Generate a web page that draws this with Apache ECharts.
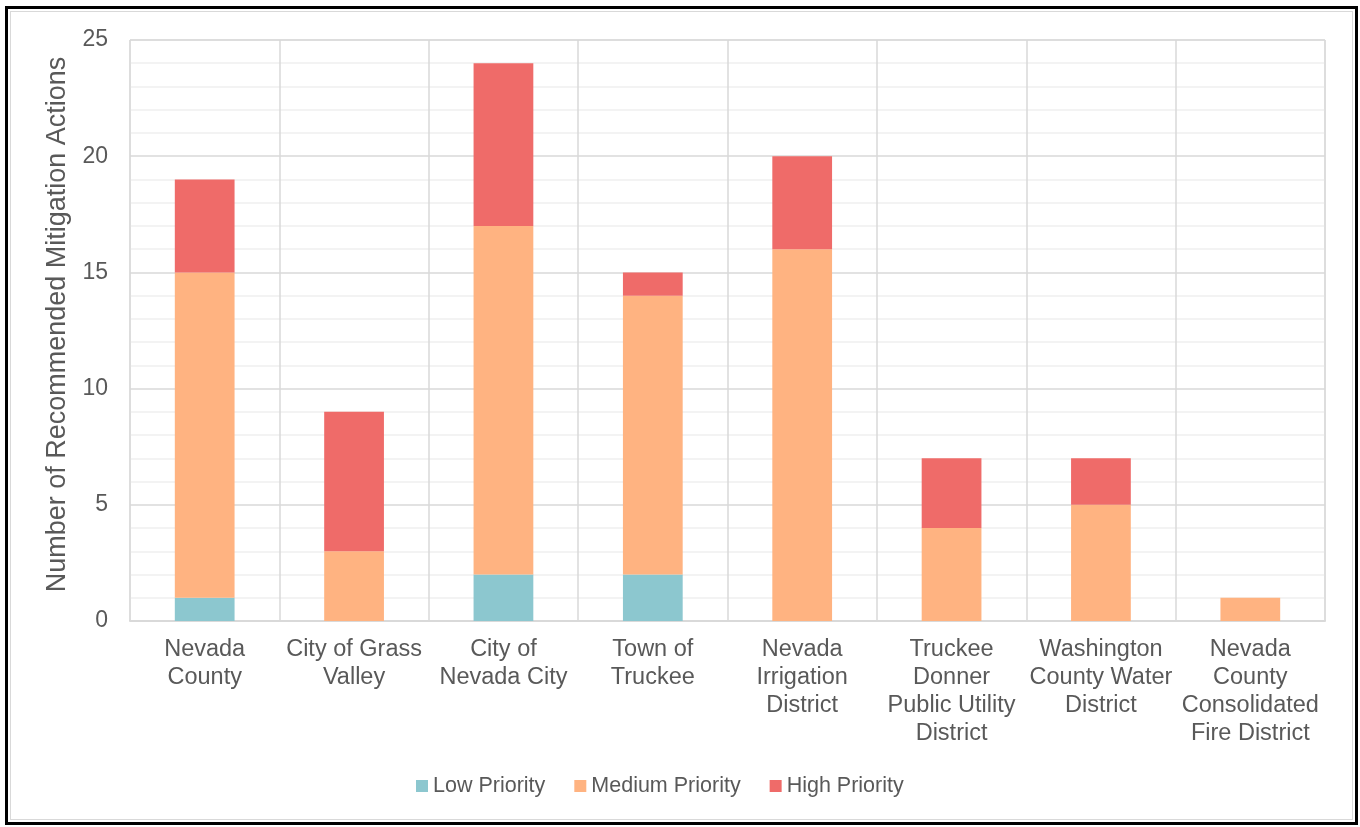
<!DOCTYPE html>
<html>
<head>
<meta charset="utf-8">
<title>Recommended Mitigation Actions</title>
<script src="https://cdn.jsdelivr.net/npm/echarts@6/dist/echarts.min.js"></script>
<style>
  html, body { margin: 0; padding: 0; background: #fff; }
  #frame {
    position: absolute; left: 5px; top: 6px;
    width: 1347px; height: 813px;
    border: 3px solid #000;
  }
  #inner {
    position: absolute; left: 2px; top: 2px; right: 2px; bottom: 2px;
    border: 1px solid #d9d9d9;
  }
  #chart { position: absolute; left: 0; top: 0; width: 1360px; height: 827px; }
</style>
</head>
<body>
<div id="frame"><div id="inner"></div></div>
<div id="chart"></div>
<script>
// categories (line breaks as in the original labels)
var categories = [
  'Nevada\nCounty',
  'City of Grass\nValley',
  'City of\nNevada City',
  'Town of\nTruckee',
  'Nevada\nIrrigation\nDistrict',
  'Truckee\nDonner\nPublic Utility\nDistrict',
  'Washington\nCounty Water\nDistrict',
  'Nevada\nCounty\nConsolidated\nFire District'
]
var lowPriority = [1, 0, 2, 2, 0, 0, 0, 0]
var mediumPriority = [14, 3, 15, 12, 16, 4, 5, 1]
var highPriority = [4, 6, 7, 1, 4, 3, 2, 0]
var yTicks = { min: 0, max: 25, interval: 5 }

var chart = echarts.init(document.getElementById('chart'), null, { renderer: 'canvas' })
var font = '"Liberation Sans", Arial, sans-serif'

function bar(name, data, color) {
  return {
    name: name,
    type: 'bar',
    stack: 'total',
    barWidth: '40%',
    itemStyle: { color: color },
    data: data
  }
}

chart.setOption({
  animation: false,
  textStyle: { fontFamily: font },
  grid: {
    left: 130, right: 35, top: 40, bottom: 206,
    show: true, borderColor: '#d9d9d9', borderWidth: 1
  },
  legend: {
    bottom: 25,
    left: 411,
    itemWidth: 12,
    itemHeight: 12,
    itemGap: 29,
    icon: 'rect',
    textStyle: { fontSize: 21.5, color: '#595959', fontFamily: font },
    data: ['Low Priority', 'Medium Priority', 'High Priority']
  },
  xAxis: {
    type: 'category',
    data: categories,
    axisTick: { show: false },
    axisLine: { lineStyle: { color: '#d9d9d9', width: 2 } },
    splitLine: { show: true, lineStyle: { color: '#d9d9d9', width: 1.5 } },
    axisLabel: {
      interval: 0,
      margin: 15,
      fontSize: 23.5,
      lineHeight: 28,
      color: '#595959',
      fontFamily: font
    }
  },
  yAxis: {
    type: 'value',
    min: yTicks.min,
    max: yTicks.max,
    interval: yTicks.interval,
    name: 'Number of Recommended Mitigation Actions',
    nameLocation: 'middle',
    nameGap: 53,
    nameTextStyle: { fontSize: 27, color: '#595959', fontFamily: font, padding: [0, 0, 0, 12] },
    axisLine: { show: false },
    axisTick: { show: false },
    axisLabel: { fontSize: 23, color: '#595959', margin: 22, fontFamily: font },
    splitLine: { lineStyle: { color: '#d9d9d9', width: 1.5 } },
    minorTick: { show: false, splitNumber: 5 },
    minorSplitLine: { show: true, lineStyle: { color: '#f0f0f0', width: 1.5 } }
  },
  series: [
    bar('Low Priority', lowPriority, '#8cc7cf'),
    bar('Medium Priority', mediumPriority, '#ffb381'),
    bar('High Priority', highPriority, '#ef6b69')
  ]
})
</script>
</body>
</html>
